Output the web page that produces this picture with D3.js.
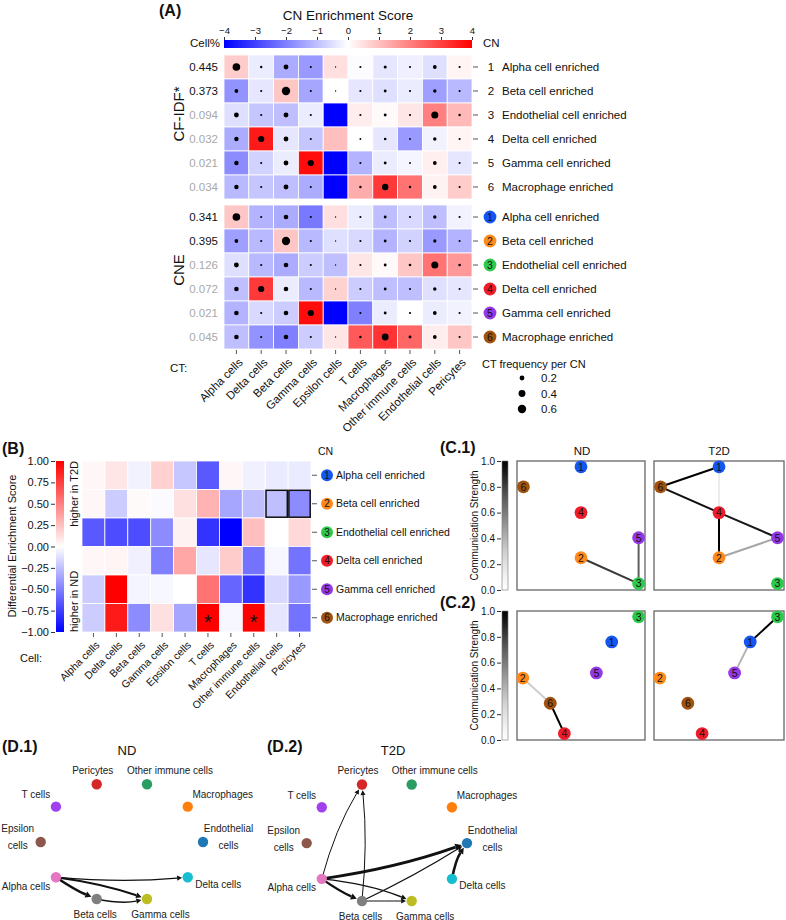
<!DOCTYPE html>
<html><head><meta charset="utf-8">
<script src="https://cdn.jsdelivr.net/npm/d3@7"></script>
<style>body{margin:0;background:#fff} svg{display:block;font-family:"Liberation Sans",Arial,Helvetica,sans-serif}</style>
</head><body><svg id="c" width="786" height="920"></svg>
<script>
// ---------------- DATA ----------------
const cellTypes = ["Alpha cells","Delta cells","Beta cells","Gamma cells","Epsilon cells","T cells","Macrophages","Other immune cells","Endothelial cells","Pericytes"];
const cnNames = ["Alpha cell enriched","Beta cell enriched","Endothelial cell enriched","Delta cell enriched","Gamma cell enriched","Macrophage enriched"];
const cnIds = ["1","2","3","4","5","6"];
const cnColors = ["#1556f0","#ff8a1c","#2ec94a","#ee1c2a","#9438e6","#a0520e"];
const cellPctCfidf = ["0.445","0.373","0.094","0.032","0.021","0.034"];
const cellPctCne = ["0.341","0.395","0.126","0.072","0.021","0.045"];
const cellPctDark = [true,true,false,false,false,false];
const cfidfScore = [
 [0.8,-0.3,-1.3,-1.6,0.5,-0.05,-0.4,-0.25,-0.5,0.15],
 [-1.7,-0.4,0.9,-1.4,0.0,-0.4,-0.5,-0.3,-1.5,-1.1],
 [-0.5,-0.9,-1.0,-0.3,-4.0,0.3,0.1,0.4,2.0,1.1],
 [-1.3,3.6,-0.4,-0.9,1.0,0.0,-0.4,-1.6,-0.2,0.15],
 [-1.8,-0.7,-0.3,3.8,-4.0,-1.2,-0.3,-0.15,0.25,-0.4],
 [-1.1,-0.9,-1.0,-1.3,-4.0,1.3,3.1,2.2,0.2,0.8]];
const cfidfFreq = [
 [0.5,0.05,0.2,0.04,0.015,0.04,0.08,0.04,0.12,0.04],
 [0.12,0.04,0.6,0.04,0.015,0.04,0.07,0.04,0.1,0.04],
 [0.2,0.04,0.2,0.04,0,0.04,0.07,0.04,0.42,0.05],
 [0.17,0.33,0.2,0.04,0,0.03,0.06,0.03,0.1,0.04],
 [0.17,0.04,0.2,0.33,0,0.04,0.07,0.03,0.12,0.04],
 [0.17,0.04,0.2,0.04,0,0.05,0.35,0.05,0.12,0.04]];
const cneScore = [
 [0.9,-1.2,-1.3,-2.1,0.5,-0.3,-1.0,-0.6,-1.0,-0.2],
 [-1.5,-1.1,0.9,-1.1,-0.5,-0.6,-1.2,-0.7,-1.6,-1.2],
 [-0.5,-1.1,-1.3,-0.8,-1.0,0.4,0.1,0.9,2.2,1.6],
 [-1.0,3.1,-0.3,-1.1,0.7,-0.8,-1.0,-1.0,-0.5,-0.4],
 [-1.2,-0.6,-0.8,3.8,-4.0,-2.0,-0.3,0.0,-0.3,-0.2],
 [-1.0,-1.7,-2.0,-0.8,0.4,2.6,3.2,2.4,0.3,0.9]];
const cneFreq = [
 [0.5,0.04,0.18,0.04,0.015,0.04,0.07,0.04,0.1,0.04],
 [0.12,0.04,0.58,0.04,0.015,0.04,0.07,0.04,0.09,0.04],
 [0.2,0.04,0.18,0.04,0.015,0.04,0.07,0.06,0.42,0.06],
 [0.18,0.33,0.18,0.04,0.015,0.04,0.07,0.04,0.1,0.04],
 [0.18,0.04,0.18,0.33,0,0.04,0.07,0.04,0.12,0.04],
 [0.18,0.04,0.18,0.04,0.015,0.05,0.4,0.07,0.12,0.04]];
const scoreTicks = [-4,-3,-2,-1,0,1,2,3,4];
const freqLegend = [0.2,0.4,0.6];

const diffScore = [
 [0.03,0.1,-0.05,0.18,-0.22,-0.65,0.03,-0.06,-0.08,-0.08],
 [0.03,-0.2,0.02,-0.02,0.12,0.3,-0.35,-0.25,-0.25,-0.45],
 [-0.65,-0.7,-0.7,-0.45,0.05,-0.8,-1.0,0.25,0.0,0.15],
 [0.03,0.04,-0.06,-0.5,0.35,-0.1,0.2,-0.55,-0.03,-0.55],
 [-0.2,1.0,-0.04,-0.03,0.0,0.55,-0.6,-0.8,-0.15,-0.4],
 [-0.2,0.9,-0.45,0.12,-0.35,1.0,-0.03,1.0,-0.1,-0.55]];
const diffTicks = [-1,-0.75,-0.5,-0.25,0,0.25,0.5,0.75,1];
const sigCells = [[5,5],[5,7]];
const boxedCells = [[1,8],[1,9]];

const commTicks = [0,0.2,0.4,0.6,0.8,1.0];
const c1X = [0.5,0.5,0.95,0.5,0.95,0.05];
const c1Y = [0.955,0.25,0.05,0.6,0.405,0.8];
const c2X = [0.74,0.045,0.95,0.37,0.62,0.26];
const c2Y = [0.76,0.48,0.955,0.05,0.52,0.285];
const c1EdgesND = [[2,3,0.82],[5,3,0.7]];
const c1EdgesT2D = [[1,6,1.0],[6,4,0.95],[4,5,0.92],[4,2,1.0],[1,4,0.15],[2,5,0.45]];
const c2EdgesND = [[2,6,0.3],[6,4,1.0]];
const c2EdgesT2D = [[3,1,1.0],[1,5,0.4]];

const dNodes = ["Pericytes","Other immune cells","T cells","Macrophages","Epsilon cells","Endothelial cells","Alpha cells","Delta cells","Beta cells","Gamma cells"];
const dColors = ["#d62728","#2a9d63","#a040ee","#ff7f0e","#8c564b","#1f77b4","#e377c2","#17becf","#7f7f7f","#bcbd22"];
const dX = [0.345,0.655,0.094,0.906,0.0,1.0,0.094,0.906,0.345,0.655];
const dY = [1.0,1.0,0.805,0.805,0.497,0.497,0.19,0.19,0.0,0.0];
// [source, target, weight, curvature]
const dEdgesND = [["Alpha cells","Beta cells",2.6,0.05],["Alpha cells","Gamma cells",2.0,-0.05],["Beta cells","Gamma cells",1.4,0.1],["Alpha cells","Delta cells",1.2,0.045]];
const dEdgesT2D = [["Alpha cells","Pericytes",1.0,-0.07],["Beta cells","Pericytes",1.0,0.05],["Alpha cells","Endothelial cells",3.0,0.05],["Beta cells","Endothelial cells",1.2,0.03],["Alpha cells","Beta cells",2.4,0.05],["Alpha cells","Gamma cells",1.4,-0.07],["Beta cells","Gamma cells",1.0,0.0],["Delta cells","Endothelial cells",2.5,-0.1]];

// ---------------- DRAW ----------------
const svg = d3.select("#c");
svg.append("rect").attr("width",786).attr("height",920).attr("fill","#fff");
const defs = svg.append("defs");
function txt(g,x,y,s,size,opts={}){
  const t=g.append("text").attr("x",x).attr("y",y).text(s).attr("font-size",size).attr("fill",opts.fill||"#111");
  if(opts.anchor) t.attr("text-anchor",opts.anchor);
  if(opts.weight) t.attr("font-weight",opts.weight);
  if(opts.dy) t.attr("dy",opts.dy);
  if(opts.rotate!=null) t.attr("transform",`rotate(${opts.rotate},${x},${y})`);
  return t;
}
function panelLabel(x,y,s){ txt(svg,x,y,s,16,{weight:"bold"}); }

// ===== Panel A =====
const colorA = d3.scaleLinear().domain([-4,0,4]).range(["#0000ff","#ffffff","#ff0000"]).clamp(true);
const xA = d3.scaleBand().domain(cellTypes).range([224,472]);
const yA1 = d3.scaleBand().domain(cnNames).range([55,199]);
const yA2 = d3.scaleBand().domain(cnNames).range([205,349]);
const rA = d3.scaleSqrt().domain([0,0.6]).range([0,4.2]);
panelLabel(159,16,"(A)");
txt(svg,348,20,"CN Enrichment Score",13.5,{anchor:"middle"});
// colorbar
const cbA = d3.scaleLinear().domain([-4,4]).range([224,472]);
const gradA = defs.append("linearGradient").attr("id","gA");
d3.range(0,1.0001,0.05).forEach(o=>gradA.append("stop").attr("offset",o).attr("stop-color",colorA(-4+8*o)));
svg.append("rect").attr("x",224).attr("y",40).attr("width",248).attr("height",8).attr("fill","url(#gA)");
const axA = svg.append("g").attr("transform","translate(0,40)").call(d3.axisTop(cbA).tickValues(scoreTicks).tickSize(3).tickPadding(3).tickFormat(d3.format("d")));
axA.select(".domain").remove();
axA.selectAll("text").attr("font-size",9.5).attr("font-family",null).attr("fill","#111");
axA.selectAll("line").attr("stroke","#333");
txt(svg,190,47,"Cell%",11.5);
txt(svg,483,47,"CN",11.5);

function heatA(scores,freqs,yS,pct){
  const g=svg.append("g");
  scores.forEach((row,i)=>row.forEach((v,j)=>{
    g.append("rect").attr("x",xA(cellTypes[j])).attr("y",yS(cnNames[i])).attr("width",xA.bandwidth()).attr("height",yS.bandwidth())
     .attr("fill",colorA(v)).attr("stroke","#fff").attr("stroke-width",0.8);
    const f=freqs[i][j];
    if(f>0) g.append("circle").attr("cx",xA(cellTypes[j])+xA.bandwidth()/2).attr("cy",yS(cnNames[i])+yS.bandwidth()/2).attr("r",rA(f)).attr("fill","#000");
  }));
  cnNames.forEach((n,i)=>{
    const cy=yS(n)+yS.bandwidth()/2;
    txt(g,218,cy,pct[i],11.5,{anchor:"end",dy:"0.35em",fill:cellPctDark[i]?"#111":"#a8a8a8"});
    g.append("line").attr("x1",473).attr("x2",478).attr("y1",cy).attr("y2",cy).attr("stroke","#555");
  });
  return g;
}
const gA1 = heatA(cfidfScore,cfidfFreq,yA1,cellPctCfidf);
cnNames.forEach((n,i)=>{const cy=yA1(n)+yA1.bandwidth()/2;
  txt(gA1,491,cy,cnIds[i],11.5,{anchor:"middle",dy:"0.35em"});
  txt(gA1,502,cy,n,11.5,{dy:"0.35em"});});
const gA2 = heatA(cneScore,cneFreq,yA2,cellPctCne);
cnNames.forEach((n,i)=>{const cy=yA2(n)+yA2.bandwidth()/2;
  gA2.append("circle").attr("cx",490).attr("cy",cy).attr("r",6.4).attr("fill",cnColors[i]);
  txt(gA2,490,cy,cnIds[i],10.5,{anchor:"middle",dy:"0.36em",fill:"#111"});
  txt(gA2,502,cy,n,11.5,{dy:"0.35em"});});
txt(svg,184,114,"CF-IDF*",15,{anchor:"middle",rotate:-90});
txt(svg,184,270,"CNE",15,{anchor:"middle",rotate:-90});
cellTypes.forEach(c=>{const xc=xA(c)+xA.bandwidth()/2;
  svg.append("line").attr("x1",xc).attr("x2",xc).attr("y1",350).attr("y2",354).attr("stroke","#555");
  txt(svg,xc+3,359,c,11.5,{anchor:"end",dy:"0.5em",rotate:-45});});
txt(svg,170,372,"CT:",11.5);
txt(svg,482,368,"CT frequency per CN",11);
const yLegA = d3.scalePoint().domain(freqLegend).range([378,409]);
freqLegend.forEach(v=>{svg.append("circle").attr("cx",522).attr("cy",yLegA(v)).attr("r",rA(v)).attr("fill","#000");
  txt(svg,541,yLegA(v),d3.format(".1f")(v),11.5,{dy:"0.35em"});});

// ===== Panel B =====
const colorB = d3.scaleLinear().domain([-1,0,1]).range(["#0000ff","#ffffff","#ff0000"]).clamp(true);
const xB = d3.scaleBand().domain(cellTypes).range([82,311]);
const yB = d3.scaleBand().domain(cnNames).range([461,632]);
const cbB = d3.scaleLinear().domain([-1,1]).range([632,461]);
panelLabel(2,454,"(B)");
const gradB = defs.append("linearGradient").attr("id","gB").attr("x1",0).attr("x2",0).attr("y1",1).attr("y2",0);
d3.range(0,1.0001,0.05).forEach(o=>gradB.append("stop").attr("offset",o).attr("stop-color",colorB(-1+2*o)));
svg.append("rect").attr("x",56).attr("y",461).attr("width",8).attr("height",171).attr("fill","url(#gB)");
const axB = svg.append("g").attr("transform","translate(55,0)").call(d3.axisLeft(cbB).tickValues(diffTicks).tickSize(4).tickPadding(2).tickFormat(d3.format(".2f")));
axB.select(".domain").remove();
axB.selectAll("text").attr("font-size",11).attr("font-family",null).attr("fill","#111");
axB.selectAll("line").attr("stroke","#333");
txt(svg,16,546,"Differential Enrichment Score",11,{anchor:"middle",rotate:-90});
txt(svg,78,461,"higher in T2D",11,{anchor:"end",rotate:-90});
txt(svg,78,632,"higher in ND",11,{anchor:"start",rotate:-90});
diffScore.forEach((row,i)=>row.forEach((v,j)=>{
  svg.append("rect").attr("x",xB(cellTypes[j])).attr("y",yB(cnNames[i])).attr("width",xB.bandwidth()).attr("height",yB.bandwidth())
   .attr("fill",colorB(v)).attr("stroke","#fff").attr("stroke-width",0.8);}));
boxedCells.forEach(([i,j])=>svg.append("rect").attr("x",xB(cellTypes[j])+0.8).attr("y",yB(cnNames[i])+0.8)
  .attr("width",xB.bandwidth()-1.6).attr("height",yB.bandwidth()-1.6).attr("fill","none").attr("stroke","#111").attr("stroke-width",1.5));
sigCells.forEach(([i,j])=>txt(svg,xB(cellTypes[j])+xB.bandwidth()/2,yB(cnNames[i])+yB.bandwidth()/2+11,"*",20,{anchor:"middle"}));
txt(svg,318,455,"CN",10.5);
cnNames.forEach((n,i)=>{const cy=yB(n)+yB.bandwidth()/2;
  svg.append("line").attr("x1",312).attr("x2",317).attr("y1",cy).attr("y2",cy).attr("stroke","#555");
  svg.append("circle").attr("cx",327).attr("cy",cy).attr("r",6).attr("fill",cnColors[i]);
  txt(svg,327,cy,cnIds[i],10,{anchor:"middle",dy:"0.36em"});
  txt(svg,336,cy,n,10.5,{dy:"0.35em"});});
cellTypes.forEach(c=>{const xc=xB(c)+xB.bandwidth()/2;
  svg.append("line").attr("x1",xc).attr("x2",xc).attr("y1",633).attr("y2",637).attr("stroke","#555");
  txt(svg,xc+3,642,c,10.5,{anchor:"end",dy:"0.5em",rotate:-45});});
txt(svg,20,662,"Cell:",11);

// ===== Panel C =====
function commBar(yTop,yBot){
  const s=d3.scaleLinear().domain([0,1]).range([yBot,yTop]);
  const id="gC"+yTop;
  const gr=defs.append("linearGradient").attr("id",id).attr("x1",0).attr("x2",0).attr("y1",1).attr("y2",0);
  d3.range(0,1.0001,0.1).forEach(o=>gr.append("stop").attr("offset",o).attr("stop-color",d3.interpolateGreys(o)));
  svg.append("rect").attr("x",502).attr("y",yTop).attr("width",6).attr("height",yBot-yTop).attr("fill",`url(#${id})`).attr("stroke","#777").attr("stroke-width",0.6);
  const ax=svg.append("g").attr("transform","translate(501,0)").call(d3.axisLeft(s).tickValues(commTicks).tickSize(4).tickPadding(2).tickFormat(d3.format(".1f")));
  ax.select(".domain").remove();
  ax.selectAll("text").attr("font-size",10).attr("font-family",null).attr("fill","#111");
  ax.selectAll("line").attr("stroke","#333");
  txt(svg,478,(yTop+yBot)/2,"Communication Strength",10,{anchor:"middle",rotate:-90});
}
function commPlot(x0,x1,yTop,yBot,xs,ys,edges){
  const sx=d3.scaleLinear().domain([0,1]).range([x0,x1]);
  const sy=d3.scaleLinear().domain([0,1]).range([yBot,yTop]);
  svg.append("rect").attr("x",x0).attr("y",yTop).attr("width",x1-x0).attr("height",yBot-yTop).attr("fill","none").attr("stroke","#666").attr("stroke-width",1.3);
  edges.forEach(([a,b,w])=>svg.append("line").attr("x1",sx(xs[a-1])).attr("y1",sy(ys[a-1])).attr("x2",sx(xs[b-1])).attr("y2",sy(ys[b-1]))
     .attr("stroke",d3.interpolateGreys(w)).attr("stroke-width",2));
  cnIds.forEach((id,i)=>{
    svg.append("circle").attr("cx",sx(xs[i])).attr("cy",sy(ys[i])).attr("r",6.4).attr("fill",cnColors[i]);
    txt(svg,sx(xs[i]),sy(ys[i]),id,10.5,{anchor:"middle",dy:"0.36em"});
  });
}
panelLabel(440,453,"(C.1)");
panelLabel(440,608,"(C.2)");
txt(svg,582,455,"ND",11.5,{anchor:"middle"});
txt(svg,719,455,"T2D",11.5,{anchor:"middle"});
commBar(461,590); commBar(611,740);
commPlot(517,645,461,590,c1X,c1Y,c1EdgesND);
commPlot(654,784,461,590,c1X,c1Y,c1EdgesT2D);
commPlot(517,645,611,740,c2X,c2Y,c2EdgesND);
commPlot(654,784,611,740,c2X,c2Y,c2EdgesT2D);

// ===== Panel D =====
const dLabelPos = {
 "Pericytes":[[-4,-14,"Pericytes"]],
 "Other immune cells":[[23,-14,"Other immune cells"]],
 "T cells":[[-20,-12,"T cells"]],
 "Macrophages":[[35,-12,"Macrophages"]],
 "Epsilon cells":[[-23,-13,"Epsilon"],[-23,4,"cells"]],
 "Endothelial cells":[[25.5,-13,"Endothelial"],[25.5,4,"cells"]],
 "Alpha cells":[[-30,9,"Alpha cells"]],
 "Delta cells":[[30.5,7,"Delta cells"]],
 "Beta cells":[[-1.5,15,"Beta cells"]],
 "Gamma cells":[[13.5,15,"Gamma cells"]]};
function network(x0,x1,yBottom,yTop,edges,title,titleX){
  const sx=d3.scaleLinear().domain([0,1]).range([x0,x1]);
  const sy=d3.scaleLinear().domain([0,1]).range([yBottom,yTop]);
  const pos={}; dNodes.forEach((n,i)=>pos[n]=[sx(dX[i]),sy(dY[i])]);
  const R=5.2;
  txt(svg,titleX,755,title,13,{anchor:"middle"});
  const g=svg.append("g");
  edges.forEach(([s,t,w,c])=>{
    const [xa,ya]=pos[s],[xb,yb]=pos[t];
    const dx=xb-xa,dy=yb-ya,L=Math.hypot(dx,dy);
    const nx=-dy/L,ny=dx/L;
    const cx=(xa+xb)/2+nx*c*L, cy=(ya+yb)/2+ny*c*L;
    let ux=xb-cx,uy=yb-cy; const ul=Math.hypot(ux,uy); ux/=ul; uy/=ul;
    const tipx=xb-ux*(R+0.5), tipy=yb-uy*(R+0.5);
    const AL=4+w*0.8, AW=2+w*0.5;
    const bx=tipx-ux*AL, by=tipy-uy*AL;
    g.append("path").attr("d",`M${xa},${ya}Q${cx},${cy} ${bx},${by}`).attr("fill","none").attr("stroke","#111").attr("stroke-width",w);
    g.append("path").attr("d",`M${tipx},${tipy}L${bx-uy*AW},${by+ux*AW}L${bx+uy*AW},${by-ux*AW}Z`).attr("fill","#111");
  });
  dNodes.forEach((n,i)=>{
    g.append("circle").attr("cx",pos[n][0]).attr("cy",pos[n][1]).attr("r",R).attr("fill",dColors[i]);
    dLabelPos[n].forEach(([ox,oy,s])=>txt(g,pos[n][0]+ox,pos[n][1]+oy,s,10,{anchor:"middle",dy:"0.35em",fill:"#222"}));
  });
}
panelLabel(2,752,"(D.1)");
panelLabel(267,752,"(D.2)");
network(40.7,203,899,784.3,dEdgesND,"ND",127);
network(306.7,467,901,784.5,dEdgesT2D,"T2D",393);
</script></body></html>
